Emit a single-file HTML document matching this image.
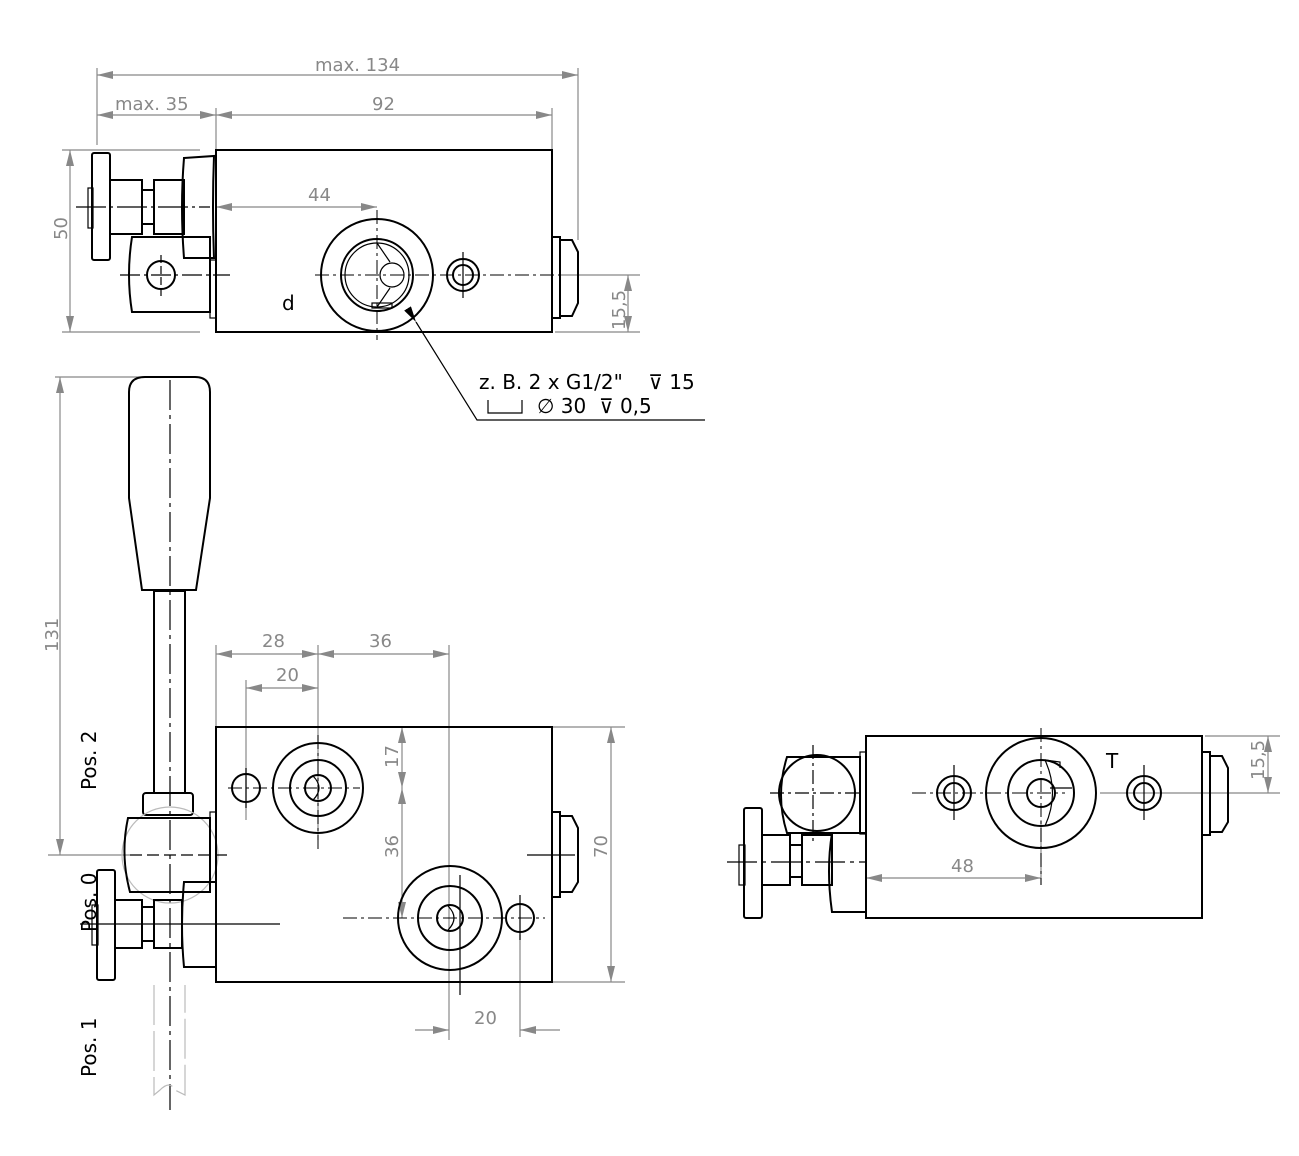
<!DOCTYPE html>
<html><head><meta charset="utf-8"><style>
html,body{margin:0;padding:0;background:#fff}
svg{display:block}
text{font-family:"DejaVu Sans","Liberation Sans",sans-serif}
.o{fill:none;stroke:#000;stroke-width:2}
.t{fill:none;stroke:#000;stroke-width:1.2}
.d{fill:none;stroke:#888;stroke-width:1.2}
.c{fill:none;stroke:#000;stroke-width:1;stroke-dasharray:14 4 3 4}
.g{fill:#888;font-size:18px}
.k{fill:#000;font-size:20px}
</style></head><body>
<svg width="1299" height="1156" viewBox="0 0 1299 1156" xmlns="http://www.w3.org/2000/svg">
<defs>
<marker id="a" viewBox="0 0 16 8" refX="16" refY="4" markerWidth="16" markerHeight="8" orient="auto-start-reverse" markerUnits="userSpaceOnUse"><path d="M0,0 L16,4 L0,8z" fill="#888"/></marker>
<marker id="b" viewBox="0 0 16 8" refX="16" refY="4" markerWidth="16" markerHeight="8" orient="auto" markerUnits="userSpaceOnUse"><path d="M0,0 L16,4 L0,8z" fill="#000"/></marker>
</defs>

<!-- ===== TOP VIEW ===== -->
<g class="d">
<line x1="97" y1="68" x2="97" y2="145"/><line x1="578" y1="68" x2="578" y2="240"/>
<line x1="216" y1="108" x2="216" y2="150"/><line x1="552" y1="108" x2="552" y2="150"/>
<line x1="97" y1="75" x2="578" y2="75" marker-start="url(#a)" marker-end="url(#a)"/>
<line x1="97" y1="115" x2="216" y2="115" marker-start="url(#a)" marker-end="url(#a)"/>
<line x1="216" y1="115" x2="552" y2="115" marker-start="url(#a)" marker-end="url(#a)"/>
<line x1="216" y1="207" x2="377" y2="207" marker-start="url(#a)" marker-end="url(#a)"/>
<line x1="62" y1="150" x2="200" y2="150"/><line x1="62" y1="332" x2="200" y2="332"/>
<line x1="70" y1="150" x2="70" y2="332" marker-start="url(#a)" marker-end="url(#a)"/>
<line x1="560" y1="275" x2="640" y2="275"/><line x1="555" y1="332" x2="640" y2="332"/>
<line x1="628" y1="275" x2="628" y2="332" marker-start="url(#a)" marker-end="url(#a)"/>
</g>
<text class="g" x="315" y="71">max. 134</text>
<text class="g" x="115" y="110">max. 35</text>
<text class="g" x="372" y="110">92</text>
<text class="g" x="308" y="201">44</text>
<text class="g" transform="translate(67,240) rotate(-90)">50</text>
<text class="g" transform="translate(625,330) rotate(-90)">15,5</text>

<rect class="o" x="216" y="150" width="336" height="182"/>
<rect class="o" x="92" y="153" width="18" height="107" rx="2"/>
<rect class="t" x="88" y="188" width="5" height="40"/>
<rect class="o" x="110" y="180" width="32" height="54"/>
<rect class="o" x="142" y="190" width="12" height="34"/>
<rect class="o" x="154" y="180" width="30" height="54"/>
<path class="o" d="M184,158 L214,156 Q212,207 214,258 L184,258 Q180,207 184,158Z"/>
<path class="o" d="M132,237 L210,237 L210,312 L132,312 Q126,275 132,237Z"/>
<rect class="t" x="210" y="260" width="6" height="58"/>
<circle class="o" cx="161" cy="275" r="14"/>
<line class="t" x1="120" y1="275" x2="230" y2="275" stroke-dasharray="20 4 3 4"/>
<line class="t" x1="161" y1="255" x2="161" y2="297" stroke-dasharray="8 3"/>
<line class="t" x1="76" y1="207" x2="210" y2="207" stroke-dasharray="30 4 3 4"/>
<text class="k" x="282" y="310">d</text>
<circle class="o" cx="377" cy="275" r="56"/>
<circle class="o" cx="377" cy="275" r="36"/>
<circle class="t" cx="377" cy="275" r="32"/>
<circle class="t" cx="392" cy="275" r="12"/>
<path class="t" d="M377,243 L390,262 M377,307 L390,288"/>
<rect class="t" x="372" y="303" width="20" height="5"/>
<line class="c" x1="315" y1="275" x2="560" y2="275"/>
<line class="c" x1="377" y1="210" x2="377" y2="340"/>
<circle class="o" cx="463" cy="275" r="16"/>
<circle class="o" cx="463" cy="275" r="10"/>
<line class="t" x1="463" y1="252" x2="463" y2="298"/>
<path class="o" d="M552,237 L560,237 L560,318 L552,318 M560,240 L572,240 L578,252 L578,303 L572,316 L560,316"/>
<!-- leader -->
<polyline class="t" points="416,322 477,420 705,420" marker-start="url(#b)"/>
<text class="k" x="479" y="389">z. B. 2 x G1/2"&#160;&#160;&#160; ⊽ 15</text>
<path class="t" d="M488,400 L488,413 L522,413 L522,400"/>
<text class="k" x="537" y="413">∅ 30&#160; ⊽ 0,5</text>

<!-- ===== FRONT VIEW ===== -->
<g class="d">
<line x1="55" y1="377" x2="140" y2="377"/>
<line x1="60" y1="377" x2="60" y2="855" marker-start="url(#a)" marker-end="url(#a)"/>
<line x1="48" y1="855" x2="130" y2="855"/>
<line x1="216" y1="645" x2="216" y2="727"/><line x1="318" y1="645" x2="318" y2="840"/>
<line x1="449" y1="645" x2="449" y2="1040"/><line x1="246" y1="680" x2="246" y2="820"/>
<line x1="216" y1="654" x2="318" y2="654" marker-start="url(#a)" marker-end="url(#a)"/>
<line x1="318" y1="654" x2="449" y2="654" marker-start="url(#a)" marker-end="url(#a)"/>
<line x1="246" y1="688" x2="318" y2="688" marker-start="url(#a)" marker-end="url(#a)"/>
<line x1="402" y1="727" x2="402" y2="788" marker-start="url(#a)" marker-end="url(#a)"/>
<line x1="402" y1="788" x2="402" y2="918" marker-start="url(#a)" marker-end="url(#a)"/>
<line x1="552" y1="727" x2="625" y2="727"/><line x1="552" y1="982" x2="625" y2="982"/>
<line x1="611" y1="727" x2="611" y2="982" marker-start="url(#a)" marker-end="url(#a)"/>
<line x1="520" y1="935" x2="520" y2="1037"/>
<line x1="415" y1="1030" x2="449" y2="1030" marker-end="url(#a)"/>
<line x1="560" y1="1030" x2="520" y2="1030" marker-end="url(#a)"/>
</g>
<text class="g" transform="translate(58,652) rotate(-90)">131</text>
<text class="g" x="262" y="647">28</text>
<text class="g" x="369" y="647">36</text>
<text class="g" x="276" y="681">20</text>
<text class="g" transform="translate(398,768) rotate(-90)">17</text>
<text class="g" transform="translate(398,858) rotate(-90)">36</text>
<text class="g" transform="translate(607,858) rotate(-90)">70</text>
<text class="g" x="474" y="1024">20</text>
<text class="k" transform="translate(96,790) rotate(-90)">Pos. 2</text>
<text class="k" transform="translate(96,932) rotate(-90)">Pos. 0</text>
<text class="k" transform="translate(96,1077) rotate(-90)">Pos. 1</text>

<!-- handle -->
<path class="o" d="M129,498 L129,392 Q129,377 145,377 L195,377 Q210,377 210,392 L210,498 L196,590 L142,590Z"/>
<rect class="o" x="154" y="591" width="31" height="202"/>
<line class="t" x1="170" y1="380" x2="170" y2="1110" stroke-dasharray="30 5 4 5"/>
<rect class="o" x="143" y="793" width="50" height="22" rx="3"/>
<circle cx="170" cy="855" r="48" fill="none" stroke="#bbb" stroke-width="1.2"/>
<path class="o" d="M128,818 L210,818 L210,892 L130,892 Q120,855 128,818Z"/>
<rect class="t" x="210" y="812" width="6" height="70"/>
<line class="t" x1="130" y1="855" x2="232" y2="855" stroke-dasharray="12 5"/>
<rect class="o" x="97" y="870" width="18" height="110" rx="2"/>
<rect class="t" x="92" y="905" width="6" height="40"/>
<rect class="o" x="115" y="900" width="27" height="48"/>
<rect class="o" x="142" y="907" width="12" height="34"/>
<rect class="o" x="154" y="900" width="28" height="48"/>
<path class="o" d="M184,882 L216,882 L216,967 L184,967 Q180,925 184,882Z"/>
<line class="t" x1="80" y1="924" x2="280" y2="924"/>
<path d="M154,985 L154,1095 L160,1090 Q170,1080 175,1090 L185,1095 L185,985" fill="none" stroke="#bbb" stroke-width="1.2" stroke-dasharray="40 6"/>

<rect class="o" x="216" y="727" width="336" height="255"/>
<circle class="o" cx="318" cy="788" r="45"/>
<circle class="o" cx="318" cy="788" r="28"/>
<circle class="o" cx="318" cy="788" r="13"/>
<path class="t" d="M313,776 Q325,788 313,800"/>
<circle class="o" cx="246" cy="788" r="14"/>
<line class="c" x1="228" y1="788" x2="360" y2="788"/>
<line class="c" x1="318" y1="735" x2="318" y2="850"/>
<line class="t" x1="246" y1="768" x2="246" y2="808"/>
<circle class="o" cx="450" cy="918" r="52"/>
<circle class="o" cx="450" cy="918" r="32"/>
<circle class="o" cx="450" cy="918" r="13"/>
<path class="t" d="M448,906 Q460,918 448,930"/>
<circle class="o" cx="520" cy="918" r="14"/>
<line class="c" x1="343" y1="918" x2="545" y2="918"/>
<line class="t" x1="460" y1="875" x2="460" y2="995"/>
<line class="t" x1="520" y1="895" x2="520" y2="940"/>
<path class="o" d="M552,812 L560,812 L560,897 L552,897 M560,816 L572,816 L578,828 L578,882 L572,892 L560,892"/>
<line class="t" x1="527" y1="855" x2="575" y2="855"/>

<!-- ===== RIGHT VIEW ===== -->
<g class="d">
<line x1="866" y1="860" x2="866" y2="918"/>
<line x1="1041" y1="820" x2="1041" y2="885"/>
<line x1="866" y1="878" x2="1041" y2="878" marker-start="url(#a)" marker-end="url(#a)"/>
<line x1="1205" y1="736" x2="1280" y2="736"/><line x1="1100" y1="793" x2="1280" y2="793"/>
<line x1="1268" y1="736" x2="1268" y2="793" marker-start="url(#a)" marker-end="url(#a)"/>
</g>
<text class="g" x="951" y="872">48</text>
<text class="g" transform="translate(1264,780) rotate(-90)">15,5</text>
<rect class="o" x="866" y="736" width="336" height="182"/>
<text class="k" x="1106" y="768">T</text>
<circle class="o" cx="1041" cy="793" r="55"/>
<circle class="o" cx="1041" cy="793" r="33"/>
<circle class="o" cx="1041" cy="793" r="14"/>
<path class="t" d="M1045,760 Q1060,793 1045,826 M1045,760 L1060,762 L1060,768 M1050,788 L1072,788"/>
<line class="c" x1="912" y1="793" x2="1065" y2="793"/>
<line class="c" x1="1041" y1="728" x2="1041" y2="885"/>
<circle class="o" cx="954" cy="793" r="17"/><circle class="o" cx="954" cy="793" r="10"/>
<circle class="o" cx="1144" cy="793" r="17"/><circle class="o" cx="1144" cy="793" r="10"/>
<line class="t" x1="954" y1="765" x2="954" y2="820"/>
<line class="t" x1="1144" y1="765" x2="1144" y2="820"/>
<path class="o" d="M1202,752 L1210,752 L1210,835 L1202,835 M1210,756 L1222,756 L1228,768 L1228,822 L1222,832 L1210,832"/>
<path class="o" d="M787,757 L860,757 L860,833 L787,833 Q775,795 787,757Z"/>
<circle class="o" cx="817" cy="793" r="38"/>
<line class="t" x1="770" y1="793" x2="860" y2="793" stroke-dasharray="14 4 3 4"/>
<line class="t" x1="813" y1="745" x2="813" y2="845" stroke-dasharray="14 4 3 4"/>
<rect class="t" x="860" y="752" width="6" height="82"/>
<rect class="o" x="744" y="808" width="18" height="110" rx="2"/>
<rect class="t" x="739" y="845" width="6" height="40"/>
<rect class="o" x="762" y="835" width="28" height="50"/>
<rect class="o" x="790" y="845" width="12" height="32"/>
<rect class="o" x="802" y="835" width="30" height="50"/>
<path class="o" d="M832,833 L866,833 L866,912 L832,912 Q826,870 832,833Z"/>
<line class="t" x1="727" y1="862" x2="866" y2="862" stroke-dasharray="30 5 4 5"/>
</svg>
</body></html>
